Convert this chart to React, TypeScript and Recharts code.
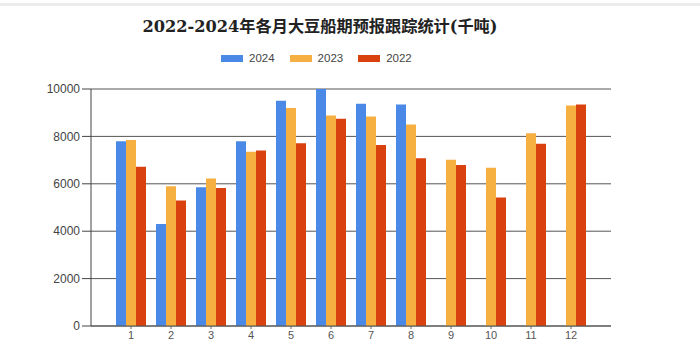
import React from "react";
import { BarChart, Bar, XAxis, YAxis, CartesianGrid } from "recharts";

const months = ["1", "2", "3", "4", "5", "6", "7", "8", "9", "10", "11", "12"];
const v2024: (number | null)[] = [7800, 4300, 5850, 7800, 9500, 10000, 9380, 9350, null, null, null, null];
const v2023: number[] = [7850, 5900, 6220, 7350, 9200, 8880, 8840, 8500, 7020, 6680, 8130, 9300];
const v2022: number[] = [6720, 5300, 5820, 7400, 7710, 8750, 7640, 7080, 6790, 5420, 7690, 9350];
const yTicks = [0, 2000, 4000, 6000, 8000, 10000];
const seriesNames = ["2024", "2023", "2022"];
const seriesKeys = ["y2024", "y2023", "y2022"];
const colors = ["#4a8ae6", "#f6b042", "#d9420e"];

const data = months.map((m, i) => ({
  month: m,
  y2024: v2024[i],
  y2023: v2023[i],
  y2022: v2022[i],
}));

export default function App() {
  return (
    <div style={{ position: "absolute", left: 0, top: 0, width: 700, height: 354, background: "#fff" }}>
      <div style={{ position: "absolute", left: 0, top: 3, width: 700, height: 3, background: "#ececec" }} />
      <div
        style={{
          position: "absolute",
          left: 0,
          top: 13,
          width: 640,
          textAlign: "center",
          fontFamily: "DejaVu Serif, Noto Sans CJK SC, serif",
          fontWeight: "bold",
          fontSize: 16.2,
          color: "#222",
          whiteSpace: "nowrap",
        }}
      >
        2022-2024年各月大豆船期预报跟踪统计(千吨)
      </div>
      <div
        style={{
          position: "absolute",
          left: 221,
          top: 50,
          display: "flex",
          alignItems: "center",
          height: 16,
        }}
      >
        {seriesNames.map((n, i) => (
          <div key={n} style={{ display: "flex", alignItems: "center", marginRight: 15 }}>
            <div style={{ width: 22, height: 7, background: colors[i], marginRight: 6 }} />
            <span style={{ fontFamily: "Liberation Sans, Arial, sans-serif", fontSize: 11.5, color: "#444" }}>{n}</span>
          </div>
        ))}
      </div>
      <BarChart
        width={700}
        height={354}
        data={data}
        margin={{ top: 89, right: 89, bottom: 7, left: 0 }}
        barSize={10}
        barGap={0}
      >
        <CartesianGrid horizontal={true} vertical={false} stroke="#555" strokeWidth={1} />
        <XAxis
          dataKey="month"
          height={21}
          padding={{ left: 20, right: 20 }}
          tickLine={{ stroke: "#666" }}
          tickSize={3}
          tickMargin={2}
          axisLine={{ stroke: "#555" }}
          tick={{ fontFamily: "Liberation Sans, Arial, sans-serif", fontSize: 11, fill: "#555" }}
        />
        <YAxis
          width={91}
          domain={[0, 10000]}
          ticks={yTicks}
          interval={0}
          allowDataOverflow={true}
          tickSize={9}
          tickMargin={2}
          tickLine={{ stroke: "#444" }}
          axisLine={{ stroke: "#444" }}
          tick={{ fontFamily: "Liberation Sans, Arial, sans-serif", fontSize: 12, fill: "#444" }}
        />
        {seriesKeys.map((k, i) => (
          <Bar key={k} dataKey={k} name={seriesNames[i]} fill={colors[i]} isAnimationActive={false} />
        ))}
      </BarChart>
    </div>
  );
}
